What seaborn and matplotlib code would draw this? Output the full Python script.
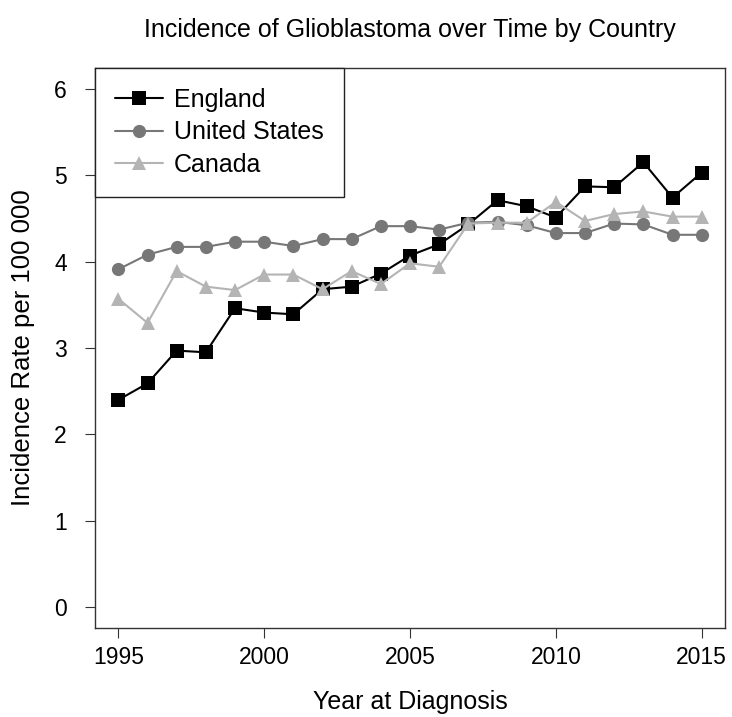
import pandas as pd
import numpy as np
import matplotlib
matplotlib.use('Agg')
import matplotlib.pyplot as plt
import seaborn as sns

# Data (rate per 100 000)
years = list(range(1995, 2016))
england = [2.40, 2.59, 2.97, 2.95, 3.46, 3.41, 3.39, 3.68, 3.71, 3.86, 4.07,
           4.20, 4.43, 4.71, 4.64, 4.51, 4.87, 4.86, 5.15, 4.74, 5.03]
united_states = [3.91, 4.08, 4.17, 4.17, 4.23, 4.23, 4.18, 4.26, 4.26, 4.41, 4.41,
                 4.37, 4.45, 4.46, 4.42, 4.33, 4.33, 4.44, 4.43, 4.31, 4.31]
canada = [3.57, 3.29, 3.89, 3.71, 3.67, 3.85, 3.85, 3.68, 3.89, 3.74, 3.98,
          3.94, 4.44, 4.45, 4.45, 4.69, 4.47, 4.55, 4.58, 4.52, 4.52]
countries = ['England', 'United States', 'Canada']
x_ticks = [1995, 2000, 2005, 2010, 2015]
y_ticks = [0, 1, 2, 3, 4, 5, 6]

df = pd.DataFrame({
    'Year': years * 3,
    'Rate': england + united_states + canada,
    'Country': [c for c in countries for _ in years],
})

sns.set_style('white')
plt.rcParams['font.family'] = ['Liberation Sans', 'DejaVu Sans']
plt.rcParams['text.color'] = 'black'
plt.rcParams['axes.labelcolor'] = 'black'
plt.rcParams['xtick.labelcolor'] = 'black'
plt.rcParams['ytick.labelcolor'] = 'black'

palette = {'England': '#000000', 'United States': '#777777', 'Canada': '#b4b4b4'}
markers = {'England': 's', 'United States': 'o', 'Canada': '^'}

fig = plt.figure(figsize=(7.32, 7.17), dpi=100)
ax = fig.add_axes([95 / 732, 1 - 628 / 717, 630 / 732, 560 / 717])

sns.lineplot(data=df, x='Year', y='Rate', hue='Country', style='Country',
             hue_order=countries, style_order=countries,
             palette=palette, markers=markers, dashes=False,
             markersize=9.5, markeredgewidth=0, linewidth=1.5, ax=ax)

ax.set_xlim(1994.2, 2015.8)
ax.set_ylim(-0.24, 6.24)
ax.set_xticks(x_ticks)
ax.set_yticks(y_ticks)
ax.tick_params(axis='both', direction='out', length=7.2, width=0.8,
               color='#333333', labelcolor='black', labelsize=16.5,
               bottom=True, left=True)
ax.tick_params(axis='x', pad=6)
ax.tick_params(axis='y', pad=13)
for s in ax.spines.values():
    s.set_color('#333333')
    s.set_linewidth(1.0)

ax.set_title('Incidence of Glioblastoma over Time by Country', fontsize=18,
             pad=22, color='black')
ax.set_xlabel('Year at Diagnosis', fontsize=18, color='black')
ax.set_ylabel('Incidence Rate per 100 000', fontsize=18.5, color='black')
ax.xaxis.set_label_coords(0.5, -0.11)
ax.yaxis.set_label_coords(-0.095, 0.5)

leg = ax.legend(loc='upper left', bbox_to_anchor=(0, 1), borderaxespad=0,
                fontsize=18, frameon=True, fancybox=False, framealpha=1,
                edgecolor='#222222', handlelength=1.9, handletextpad=0.45,
                labelspacing=0.34, borderpad=0.8, title=None)
leg.get_frame().set_linewidth(1.0)
for t in leg.get_texts():
    t.set_color('black')

fig.savefig('out.png', dpi=100)
